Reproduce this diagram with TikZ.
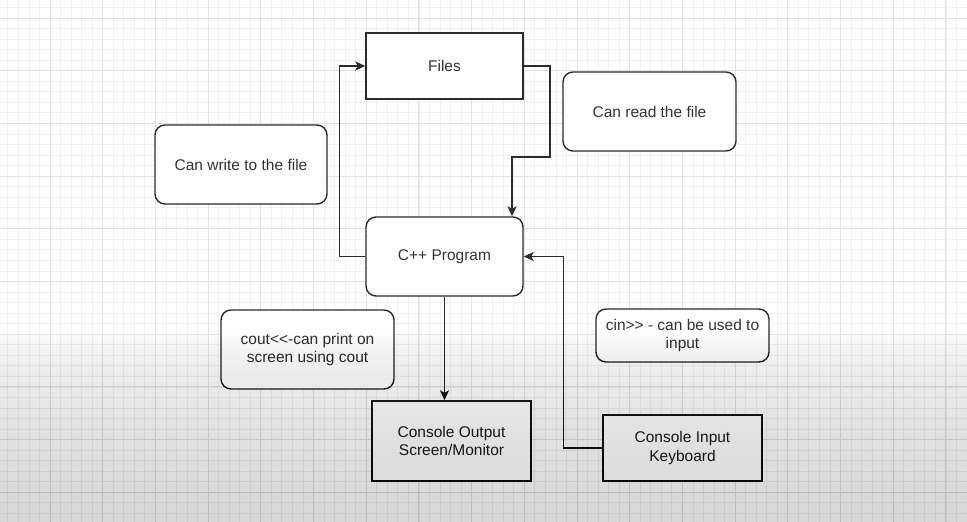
\documentclass[tikz,border=0pt]{standalone}
\usepackage{fontspec}
\setmainfont{Liberation Sans}
\usetikzlibrary{arrows.meta}

\definecolor{linec}{HTML}{2B2B2B}
\definecolor{txtc}{HTML}{333333}
\definecolor{majorc}{HTML}{E2E2E2}
\definecolor{minorc}{HTML}{F1F1F1}

\tikzset{
  box/.style={draw=linec, fill=white, line width=1.4pt, align=center,
    text=txtc, font=\fontsize{15.5}{18.5}\selectfont,
    minimum width=157pt, minimum height=66pt, inner sep=2pt},
  rbox/.style={box, rounded corners=10pt},
  arr/.style={draw=linec, line width=1.4pt,
    -{Stealth[length=10pt, width=9pt, inset=2.5pt]}},
  minorgrid/.style={draw=minorc, line width=0.8pt},
  majorgrid/.style={draw=majorc, line width=1pt}
}

\begin{document}
\begin{tikzpicture}[x=1pt, y=-1pt]

    % === Background grid ===
    \fill[white] (0,0) rectangle (967,522);
    \useasboundingbox (0,0) rectangle (967,522);
    \foreach \i in {0,...,92} {
        \draw[minorgrid] ({-2.7+10.54*\i},0) -- ({-2.7+10.54*\i},522);
    }
    \foreach \i in {0,...,50} {
        \draw[minorgrid] (0,{-3.08+10.54*\i}) -- (967,{-3.08+10.54*\i});
    }
    \foreach \i in {0,...,18} {
        \draw[majorgrid] ({-2.7+52.7*\i},0) -- ({-2.7+52.7*\i},522);
    }
    \foreach \i in {0,...,10} {
        \draw[majorgrid] (0,{18+52.7*\i}) -- (967,{18+52.7*\i});
    }

    % === Boxes ===
    \node[box] (files) at (444.5,66) {Files};
    \node[rbox, minimum width=173pt, minimum height=79pt] (read) at (649.5,111.5) {Can read the file};
    \node[rbox, minimum width=172pt, minimum height=79pt] (write) at (241,164.5) {Can write to the file};
    \node[rbox, minimum height=79pt] (prog) at (444.5,256.5) {C++ Program};
    \node[rbox, minimum width=173pt, minimum height=79pt] (cout) at (307.5,349.5) {cout<{}<-can print on\\screen using cout};
    \node[rbox, minimum width=173pt, minimum height=53pt] (cin) at (682.5,335.5) {cin>{}> - can be used to\\input};
    \node[box, minimum width=159pt, minimum height=80pt] (out) at (451.5,441) {Console Output\\Screen/Monitor};
    \node[box, minimum width=159pt] (in) at (682.5,448) {Console Input\\Keyboard};

    % === Connectors ===
    \coordinate (rd) at (550,157);
    \draw[arr] (prog.west) -- ++(-26,0) |- (files.west);
    \draw[arr] (files.east) -| (rd) -| ([xshift=67.5pt]prog.north);
    \draw[arr] (prog.south) -- (prog.south |- out.north);
    \draw[arr] (in.west) -- ++(-39,0) |- (prog.east);

    % === Darker bottom ===
    \foreach \i in {0,...,39} {
        \fill[black, opacity=0.0051] (0,{335+187*(\i/40)^2}) rectangle (967,522);
    }

\end{tikzpicture}
\end{document}
